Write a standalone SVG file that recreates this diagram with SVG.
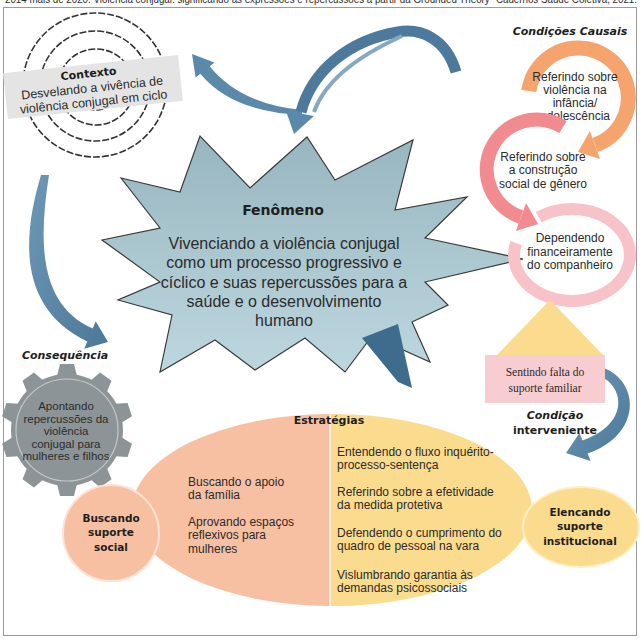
<svg xmlns="http://www.w3.org/2000/svg" xmlns:xlink="http://www.w3.org/1999/xlink" width="642" height="639" viewBox="0 0 642 639">
<defs>
<style>
.t{font-family:"Liberation Sans",Arial,sans-serif;fill:#2b2b2b;text-anchor:middle}
.ts{font-family:"Liberation Sans",Arial,sans-serif;fill:#2b2b2b;font-size:12px}
.c{font-family:"DejaVu Sans",sans-serif;font-weight:bold;fill:#1e1e1e;text-anchor:middle}
.blue{fill:#5b89aa}
.ring{fill:none}
</style>
<linearGradient id="starg" x1="0" y1="0" x2="0" y2="1">
<stop offset="0" stop-color="#98b6c0"/>
<stop offset="1" stop-color="#bdd7df"/>
</linearGradient>
<linearGradient id="blueg" x1="0" y1="0" x2="1" y2="1">
<stop offset="0" stop-color="#6d97b5"/>
<stop offset="1" stop-color="#4c7899"/>
</linearGradient>
<clipPath id="leftHalf"><rect x="0" y="0" width="329" height="639"/></clipPath>
<clipPath id="rightHalf"><rect x="331" y="0" width="311" height="639"/></clipPath>
<polygon id="tooth" points="-10,-54 -7,-66 7,-66 10,-54"/>
</defs>

<rect x="3.5" y="7.5" width="633" height="628" fill="#ffffff" stroke="#9a9a9a" stroke-width="1"/>
<text x="321" y="3" class="t" font-size="10" fill="#555" textLength="632" lengthAdjust="spacingAndGlyphs">2014 mais de 2020. Violência conjugal: significando as expressões e repercussões a partir da Grounded Theory" Cadernos Saúde Coletiva, 2021.</text>

<g id="contexto">
<g fill="none" stroke="#333" stroke-width="1.6" stroke-dasharray="7 2">
<circle cx="95" cy="85" r="72"/>
<circle cx="95" cy="86" r="55"/>
<circle cx="96" cy="87" r="38"/>
<circle cx="96" cy="88" r="22"/>
</g>
<g transform="rotate(-6 93 87)">
<rect x="5" y="64" width="176" height="46" fill="#e4e4e4"/>
<text x="90" y="77" class="c" font-size="11">Contexto</text>
<text x="92" y="92" class="t" font-size="12.5">Desvelando a vivência de</text>
<text x="92" y="106" class="t" font-size="12.5">violência conjugal em ciclo</text>
</g>
</g>

<g id="connectors">
<path class="blue" d="M302,115 Q232,112 200.3,73.7 L195.6,77.4 L192,54 L214.4,62.6 L209.7,66.3 Q240,104 302,110 Z"/>
<path d="M456,72 C446,38 420,28 398,32 C350,40 312,70 301,112" fill="none" stroke="#4d7a9c" stroke-width="11"/>
<path d="M402,36 C360,55 325,80 314,112" fill="none" stroke="#86a9c2" stroke-width="4"/>
<polygon points="286,111 314,116 294,134" fill="#5b89aa"/>
<path fill="url(#blueg)" d="M41,175 C20,245 22,310 87.3,341.4 L84.3,348.8 L108,342 L95.7,321.2 L92.7,328.6 C40,305 38,245 49,175 Z"/>
<path fill="url(#blueg)" d="M604,368 C640,382 642,435 587.6,453.5 L590.6,461 L566,453 L579.5,433 L582.4,440.5 C628,425 626,388 600,376 Z"/>
</g>

<g id="fenomeno">
<polygon fill="url(#starg)" stroke="#3a3a3a" stroke-width="1.2" points="121,178 180,192 200,136 250,188 307,137 335,180 413,140 395,210 467,197 425,238 523,259 425,282 448,305 412,322 430,362 372,336 345,372 305,338 255,370 215,340 160,372 172,315 118,300 160,282 102,240 160,228"/>
<polygon fill="#3f6b8c" points="362,338 398,324 412,388 398,382"/>
<text x="283" y="215" class="c" font-size="14">Fenômeno</text>
<g class="t" font-size="16" fill="#333">
<text x="284" y="249">Vivenciando a violência conjugal</text>
<text x="284" y="268">como um processo progressivo e</text>
<text x="284" y="288">cíclico e suas repercussões para a</text>
<text x="284" y="307">saúde e o desenvolvimento</text>
<text x="284" y="326">humano</text>
</g>
</g>

<g id="condicoes-causais">
<text x="570" y="35" class="c" font-size="11" font-style="italic">Condições Causais</text>
</g>

<g id="causal-infancia">
<path class="ring" stroke="#f5a46e" stroke-width="15" d="M528.8,91 A50,50 0 1 1 595.1,145"/>
<polygon fill="#f5a46e" points="600.1,159.1 578,152 589.9,130.9"/>
<g class="t" font-size="12">
<text x="575" y="81">Referindo sobre</text>
<text x="575" y="94">violência na</text>
<text x="575" y="107">infância/</text>
<text x="575" y="120">adolescência</text>
</g>
</g>

<g id="causal-genero">
<path class="ring" stroke="#f28b8f" stroke-width="14" d="M563,127 A50,50 0 1 0 521,217"/>
<polygon fill="#f28b8f" points="515.9,231.1 538,224 526.1,202.9"/>
<g class="t" font-size="12">
<text x="543" y="161">Referindo sobre</text>
<text x="543" y="174">a construção</text>
<text x="543" y="188">social de gênero</text>
</g>
</g>

<g id="causal-dependendo">
<path class="ring" stroke="#f7c3c9" stroke-width="12" d="M538.7,217.3 A58,46 0 1 1 516,243"/>
<g class="t" font-size="12">
<text x="570" y="242">Dependendo</text>
<text x="570" y="256">financeiramente</text>
<text x="570" y="269">do companheiro</text>
</g>
</g>

<g id="sentindo-falta">
<polygon fill="#fbdb8d" points="550,300 497,355 603,355"/>
<rect x="485" y="355" width="120" height="48" fill="#f8cdd1"/>
<text x="545" y="376" font-family="'Liberation Serif','Times New Roman',serif" font-size="11.5" fill="#2b2b2b" text-anchor="middle">Sentindo falta do</text>
<text x="545" y="392" font-family="'Liberation Serif','Times New Roman',serif" font-size="11.5" fill="#2b2b2b" text-anchor="middle">suporte familiar</text>
</g>

<g id="condicao-interveniente">
<text x="555" y="419" class="c" font-size="11" font-style="italic">Condição</text>
<text x="555" y="434" class="c" font-size="11">interveniente</text>
</g>

<g id="consequencia">
<text x="65" y="359" class="c" font-size="11" font-style="italic">Consequência</text>
<g fill="#8d9497">
<circle cx="67" cy="430" r="56"/>
<use xlink:href="#tooth" transform="translate(67 430) rotate(0)"/>
<use xlink:href="#tooth" transform="translate(67 430) rotate(36)"/>
<use xlink:href="#tooth" transform="translate(67 430) rotate(72)"/>
<use xlink:href="#tooth" transform="translate(67 430) rotate(108)"/>
<use xlink:href="#tooth" transform="translate(67 430) rotate(144)"/>
<use xlink:href="#tooth" transform="translate(67 430) rotate(180)"/>
<use xlink:href="#tooth" transform="translate(67 430) rotate(216)"/>
<use xlink:href="#tooth" transform="translate(67 430) rotate(252)"/>
<use xlink:href="#tooth" transform="translate(67 430) rotate(288)"/>
<use xlink:href="#tooth" transform="translate(67 430) rotate(324)"/>
</g>
<circle cx="67" cy="430" r="51" fill="none" stroke="#c3c8ca" stroke-width="1.2"/>
<g class="t" font-size="11.5" fill="#1e1e1e">
<text x="66" y="410">Apontando</text>
<text x="66" y="422.5">repercussões da</text>
<text x="66" y="435">violência</text>
<text x="66" y="447.5">conjugal para</text>
<text x="66" y="460">mulheres e filhos</text>
</g>
</g>

<g id="estrategias">
<ellipse cx="332" cy="510" rx="200" ry="96" fill="#f8c0a3" clip-path="url(#leftHalf)"/>
<ellipse cx="332" cy="510" rx="200" ry="96" fill="#fbdb8d" clip-path="url(#rightHalf)"/>
<line x1="330" y1="414" x2="330" y2="606" stroke="#fbeede" stroke-width="2"/>
<text x="329" y="424" class="c" font-size="11">Estratégias</text>
<g class="ts">
<text x="188" y="486">Buscando o apoio</text>
<text x="188" y="499">da família</text>
<text x="188" y="526">Aprovando espaços</text>
<text x="188" y="539">reflexivos para</text>
<text x="188" y="553">mulheres</text>
<text x="337" y="456">Entendendo o fluxo inquérito-</text>
<text x="337" y="469">processo-sentença</text>
<text x="337" y="496">Referindo sobre a efetividade</text>
<text x="337" y="509">da medida protetiva</text>
<text x="337" y="537">Defendendo o cumprimento do</text>
<text x="337" y="550">quadro de pessoal na vara</text>
<text x="337" y="579"> Vislumbrando garantia às</text>
<text x="337" y="592">demandas psicossociais</text>
</g>
</g>

<g id="buscando-suporte-social">
<circle cx="111" cy="533" r="48" fill="#f8c0a3" stroke="#fde3d5" stroke-width="2"/>
<text x="111" y="522" class="c" font-size="10.5">Buscando</text>
<text x="111" y="536" class="c" font-size="10.5">suporte</text>
<text x="111" y="551" class="c" font-size="10.5">social</text>
</g>

<g id="elencando-suporte-institucional">
<ellipse cx="581" cy="527" rx="58" ry="40" fill="#fbdb8d" stroke="#fdf0c8" stroke-width="2"/>
<text x="580" y="516" class="c" font-size="10.5">Elencando</text>
<text x="580" y="530" class="c" font-size="10.5">suporte</text>
<text x="580" y="545" class="c" font-size="10.5">institucional</text>
</g>
</svg>
